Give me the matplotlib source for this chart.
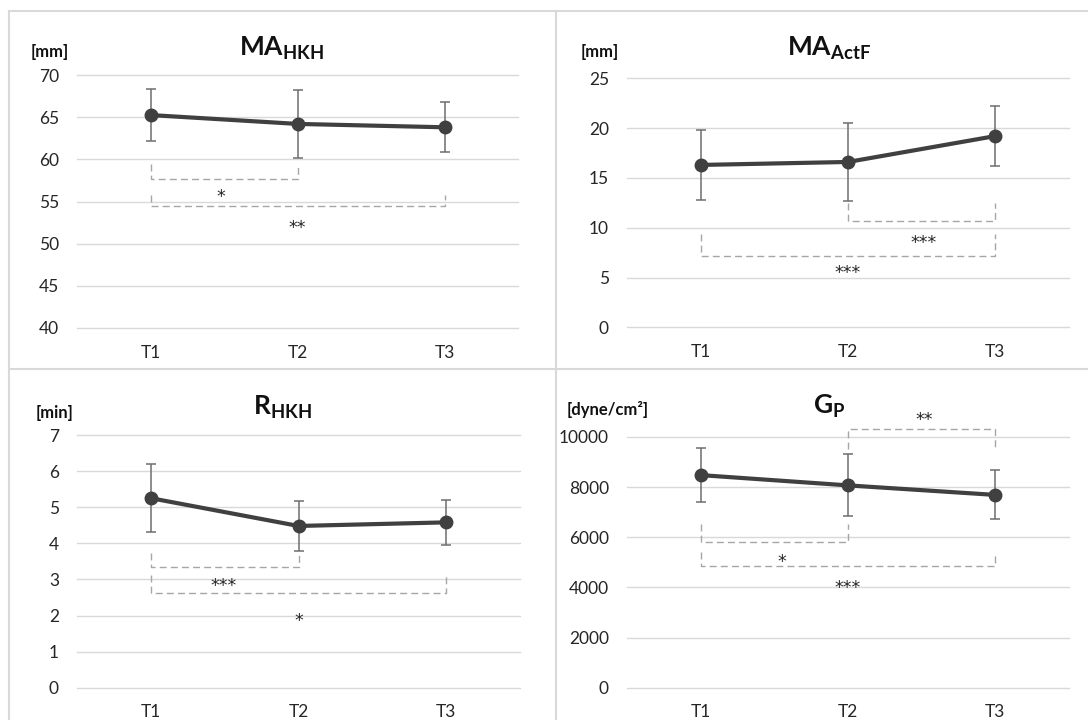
import matplotlib
matplotlib.use('Agg')
import matplotlib.pyplot as plt
from matplotlib.lines import Line2D

plt.rcParams['font.family'] = ['Lato', 'DejaVu Sans']
plt.rcParams['mathtext.fontset'] = 'custom'
plt.rcParams['mathtext.rm'] = 'Lato'
plt.rcParams['mathtext.bf'] = 'Lato:bold'

# data (mean +/- sd at each time point)
times = ['T1', 'T2', 'T3']

ma_hkh_mean = [65.25, 64.2, 63.8]
ma_hkh_sd = [3.1, 4.0, 2.95]

ma_actf_mean = [16.3, 16.6, 19.2]
ma_actf_sd = [3.55, 3.9, 3.0]

r_hkh_mean = [5.25, 4.48, 4.58]
r_hkh_sd = [0.95, 0.70, 0.62]

gp_mean = [8480, 8070, 7690]
gp_sd = [1070, 1240, 980]

# significance brackets: (from, to, end of legs, bar level, label, label x, label y)
ma_hkh_sig = [(1, 2, 59.5, 57.7, '*', 1.48, 56.2),
              (1, 3, 55.8, 54.5, '**', 2.0, 52.5)]
ma_actf_sig = [(2, 3, 12.45, 10.7, '***', 2.51, 9.0),
               (1, 3, 9.34, 7.16, '***', 2.0, 6.0)]
r_hkh_sig = [(1, 2, 3.74, 3.34, '***', 1.49, 2.98),
             (1, 3, 3.12, 2.61, '*', 2.0, 2.01)]
gp_sig = [(1, 2, 6540, 5820, '*', 1.55, 5224),
          (1, 3, 5425, 4850, '***', 2.0, 4190),
          (2, 3, 9510, 10320, '**', 2.52, 10880)]

GRID = '#d9d9d9'
LINE = '#404040'
ERR = '#6e6e6e'
DASH = '#a6a6a6'
TXT = '#262626'


def draw_panel(ax, mean, sd, yticks, sig):
    x = [1, 2, 3]
    ax.set_xlim(0.5, 3.5)
    ax.set_ylim(yticks[0], yticks[-1])
    for s in ax.spines.values():
        s.set_visible(False)
    for y in yticks:
        ax.axhline(y, color=GRID, lw=1.0, zorder=0, clip_on=False)
    ax.set_xticks(x)
    ax.set_xticklabels(times)
    ax.set_yticks(yticks)
    ax.tick_params(axis='both', length=0, labelsize=12.5, colors=TXT)
    ax.tick_params(axis='y', pad=13)
    ax.tick_params(axis='x', pad=12)

    ax.errorbar(x, mean, yerr=sd, fmt='none', ecolor=ERR, elinewidth=1.1,
                capsize=3.5, capthick=1.1, zorder=2)
    ax.plot(x, mean, '-o', color=LINE, lw=3, ms=9, zorder=3)

    for a, b, y_end, y_bar, lab, lx, ly in sig:
        ax.plot([a, a, b, b], [y_end, y_bar, y_bar, y_end], color=DASH,
                lw=1.0, ls=(0, (5, 3)), zorder=1, clip_on=False)
        ax.annotate(lab, xy=(lx, ly), xytext=(0, -7.5), textcoords='offset points',
                    ha='center', va='baseline', fontsize=12.5, color=TXT,
                    family='DejaVu Sans', annotation_clip=False)


fig = plt.figure(figsize=(10.88, 7.2), dpi=100)

W, H = 1088.0, 720.0


def px_axes(x0, x1, ytop, ybot):
    return fig.add_axes([x0 / W, 1 - ybot / H, (x1 - x0) / W, (ybot - ytop) / H])


ax1 = px_axes(77, 518, 75, 328)
ax2 = px_axes(627, 1069, 78.3, 327.3)
ax3 = px_axes(77, 520, 435, 687.7)
ax4 = px_axes(627, 1069, 437, 687.7)

draw_panel(ax1, ma_hkh_mean, ma_hkh_sd, [40, 45, 50, 55, 60, 65, 70], ma_hkh_sig)
draw_panel(ax2, ma_actf_mean, ma_actf_sd, [0, 5, 10, 15, 20, 25], ma_actf_sig)
draw_panel(ax3, r_hkh_mean, r_hkh_sd, [0, 1, 2, 3, 4, 5, 6, 7], r_hkh_sig)
draw_panel(ax4, gp_mean, gp_sd, [0, 2000, 4000, 6000, 8000, 10000], gp_sig)

# titles and units
titles = [(282, 55, r'$\mathbf{MA}_{\mathbf{HKH}}$'),
          (829, 55, r'$\mathbf{MA}_{\mathbf{ActF}}$'),
          (282, 415, r'$\mathbf{R}_{\mathbf{HKH}}$'),
          (829, 414, r'$\mathbf{G}_{\mathbf{P}}$')]
for tx, ty, t in titles:
    fig.text(tx / W, 1 - ty / H, t, ha='center', va='baseline', fontsize=19, color='#111111')

units = [(50, 52, '[mm]'), (600, 52, '[mm]'), (54.5, 413, '[min]'), (608, 410, '[dyne/cm²]')]
for ux, uy, u in units:
    fig.text(ux / W, 1 - uy / H, u, ha='center', va='center', fontsize=12,
             fontweight='bold', color='#111111')

# panel frames
BORDER = dict(color=GRID, lw=1.5)
fig.add_artist(Line2D([9.3 / W, 1], [1 - 10.7 / H] * 2, **BORDER))
fig.add_artist(Line2D([9.3 / W] * 2, [0, 1 - 10.7 / H], **BORDER))
fig.add_artist(Line2D([9.3 / W, 1], [1 - 369 / H] * 2, **BORDER))
fig.add_artist(Line2D([556 / W] * 2, [0, 1 - 10.7 / H], **BORDER))

fig.savefig('out.png', dpi=100)
